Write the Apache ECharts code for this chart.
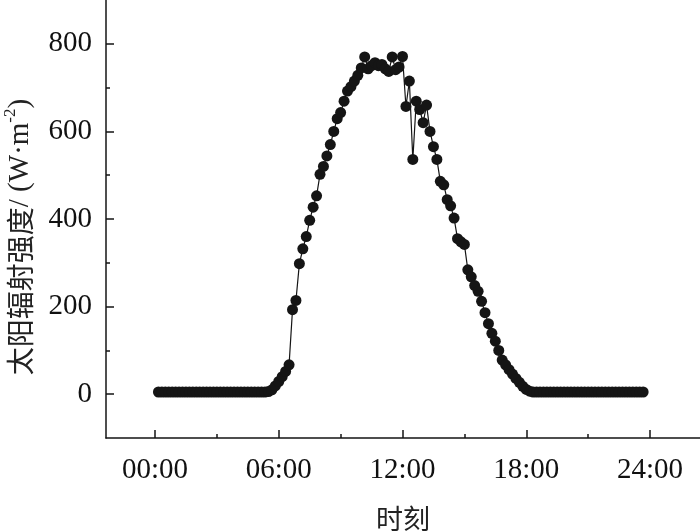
<!DOCTYPE html>
<html>
<head>
<meta charset="utf-8">
<script src="https://cdn.jsdelivr.net/npm/echarts@6/dist/echarts.min.js"></script>
<style>
  html, body { margin: 0; padding: 0; background: #fff; }
  #chart { width: 700px; height: 531px; }
</style>
</head>
<body>
<div id="chart"></div>
<script>
// 时刻 (10 min)
var times = [
  '00:10','00:20','00:30','00:40','00:50',
  '01:00','01:10','01:20','01:30','01:40','01:50',
  '02:00','02:10','02:20','02:30','02:40','02:50',
  '03:00','03:10','03:20','03:30','03:40','03:50',
  '04:00','04:10','04:20','04:30','04:40','04:50',
  '05:00','05:10','05:20','05:30','05:40','05:50',
  '06:00','06:10','06:20','06:30','06:40','06:50',
  '07:00','07:10','07:20','07:30','07:40','07:50',
  '08:00','08:10','08:20','08:30','08:40','08:50',
  '09:00','09:10','09:20','09:30','09:40','09:50',
  '10:00','10:10','10:20','10:30','10:40','10:50',
  '11:00','11:10','11:20','11:30','11:40','11:50',
  '12:00','12:10','12:20','12:30','12:40','12:50',
  '13:00','13:10','13:20','13:30','13:40','13:50',
  '14:00','14:10','14:20','14:30','14:40','14:50',
  '15:00','15:10','15:20','15:30','15:40','15:50',
  '16:00','16:10','16:20','16:30','16:40','16:50',
  '17:00','17:10','17:20','17:30','17:40','17:50',
  '18:00','18:10','18:20','18:30','18:40','18:50',
  '19:00','19:10','19:20','19:30','19:40','19:50',
  '20:00','20:10','20:20','20:30','20:40','20:50',
  '21:00','21:10','21:20','21:30','21:40','21:50',
  '22:00','22:10','22:20','22:30','22:40','22:50',
  '23:00','23:10','23:20','23:30','23:40'
];
// 太阳辐射强度 W/m2
var radiation = [
  5, 5, 5, 5, 5,
  5, 5, 5, 5, 5, 5,
  5, 5, 5, 5, 5, 5,
  5, 5, 5, 5, 5, 5,
  5, 5, 5, 5, 5, 5,
  5, 5, 5, 6, 10, 19,
  29, 40, 52, 67, 193, 214,
  298, 332, 360, 397, 427, 453,
  502, 520, 544, 570, 600, 629,
  643, 669, 692, 702, 715, 728,
  745, 770, 743, 750, 757, 750,
  753, 743, 737, 770, 741, 747,
  771, 657, 715, 536, 669, 650,
  620, 660, 600, 565, 536, 486,
  478, 444, 430, 402, 355, 348,
  342, 284, 268, 248, 235, 212,
  186, 161, 139, 121, 100, 78,
  67, 56, 46, 36, 27, 18,
  11, 7, 5, 5, 5, 5,
  5, 5, 5, 5, 5, 5,
  5, 5, 5, 5, 5, 5,
  5, 5, 5, 5, 5, 5,
  5, 5, 5, 5, 5, 5,
  5, 5, 5, 5, 5
];
var xMajor = [0, 6, 12, 18, 24];
var xMinor = [3, 9, 15, 21];
var yMajor = [0, 200, 400, 600, 800];
var yMinor = [100, 300, 500, 700];

function toHour(t) {
  var p = t.split(':');
  return Number(p[0]) + Number(p[1]) / 60;
}
var data = [];
for (var i = 0; i < times.length; i++) {
  data.push([toHour(times[i]), radiation[i]]);
}

var ink = '#151515';
var serif = 'Liberation Serif';
var xMin = -2.376, xMax = 26.424;

var chart = echarts.init(document.getElementById('chart'));
chart.setOption({
  animation: false,
  backgroundColor: '#fff',
  grid: { left: 106, right: 0, top: 0, bottom: 93, outerBoundsMode: 'none', containLabel: false },
  xAxis: [{
    type: 'value', min: xMin, max: xMax,
    name: '时刻', nameLocation: 'middle', nameGap: 67,
    nameTextStyle: { fontFamily: 'Noto Sans CJK SC', fontSize: 27, color: '#222' },
    axisLine: { show: true, onZero: false, lineStyle: { color: ink, width: 1.5 } },
    axisTick: { show: true, inside: true, length: 8, customValues: xMajor, lineStyle: { color: ink, width: 1.5 } },
    axisLabel: {
      customValues: xMajor, margin: 18,
      fontFamily: serif, fontSize: 29, color: '#111',
      formatter: function (v) { return (v < 10 ? '0' : '') + v + ':00'; }
    },
    splitLine: { show: false }
  }, {
    type: 'value', min: xMin, max: xMax, position: 'bottom',
    axisLine: { show: false, onZero: false },
    axisTick: { show: true, inside: true, length: 4, customValues: xMinor, lineStyle: { color: ink, width: 1.5 } },
    axisLabel: { show: false },
    splitLine: { show: false }
  }],
  yAxis: [{
    type: 'value', min: -100, max: 900,
    name: '{c|太阳辐射强度}{e|/ (W·m}{s|-2}{e|)}',
    nameLocation: 'middle', nameGap: 68,
    nameTextStyle: {
      padding: [0, 36, 0, 0],
      rich: {
        c: { fontFamily: 'Noto Sans CJK SC', fontSize: 28, color: '#222', lineHeight: 36 },
        e: { fontFamily: serif, fontSize: 29, color: '#222', lineHeight: 36 },
        s: { fontFamily: serif, fontSize: 17, color: '#222', lineHeight: 36, verticalAlign: 'top', padding: [0, 0, 12, 0] }
      }
    },
    axisLine: { show: true, onZero: false, lineStyle: { color: ink, width: 1.5 } },
    axisTick: { show: true, inside: true, length: 8, customValues: yMajor, lineStyle: { color: ink, width: 1.5 } },
    axisLabel: { customValues: yMajor, margin: 14, fontFamily: serif, fontSize: 29, color: '#111' },
    splitLine: { show: false }
  }, {
    type: 'value', min: -100, max: 900, position: 'left',
    axisLine: { show: false, onZero: false },
    axisTick: { show: true, inside: true, length: 4, customValues: yMinor, lineStyle: { color: ink, width: 1.5 } },
    axisLabel: { show: false },
    splitLine: { show: false }
  }],
  series: [{
    type: 'line',
    xAxisIndex: 0, yAxisIndex: 0,
    data: data,
    symbol: 'circle', symbolSize: 11,
    itemStyle: { color: ink },
    lineStyle: { color: ink, width: 1.2 }
  }]
});
</script>
</body>
</html>
